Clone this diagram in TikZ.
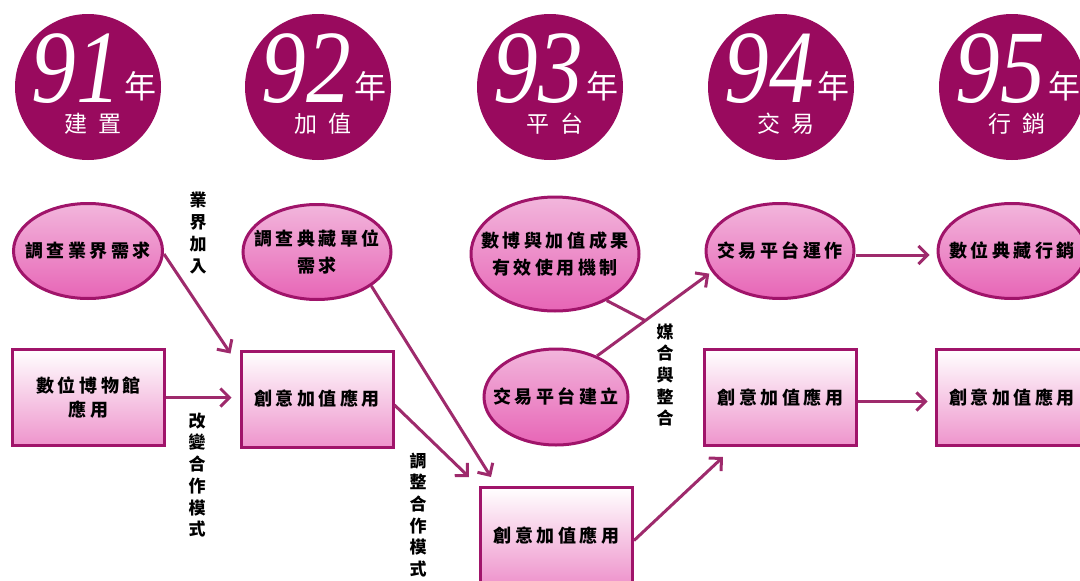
\documentclass[tikz,border=0pt]{standalone}
\usepackage{fontspec}
\setmainfont{Liberation Serif}
\newfontfamily\numfont{Liberation Serif}
\newfontfamily\cjk{Noto Sans CJK TC}
\newfontfamily\cjkls{Noto Sans CJK TC}[LetterSpace=20]
\newfontfamily\cjkwide{Noto Sans CJK TC}[LetterSpace=50]
\usetikzlibrary{arrows.meta,calc,shapes.geometric}
\definecolor{circ}{HTML}{990A5E}
\definecolor{bord}{HTML}{A0146A}
\definecolor{arrc}{HTML}{9E2A6C}
\definecolor{elltop}{HTML}{F2B6DC}
\definecolor{ellmid}{HTML}{FCEEF7}
\definecolor{ellbot}{HTML}{E765B6}
\definecolor{rectbot}{HTML}{EE94CC}
\tikzset{
  yearc/.style={circle, fill=circ, minimum size=146pt, inner sep=0pt},
  yearnum/.style={text=white, inner sep=0pt, text depth=0pt, anchor=base east, font=\numfont\itshape\fontsize{104}{104}\selectfont},
  yearsm/.style={text=white, inner sep=0pt, text depth=0pt, anchor=base west, font=\cjk\fontsize{32}{32}\selectfont},
  yearsub/.style={text=white, inner sep=0pt, font=\cjkwide\fontsize{23}{23}\selectfont},
  ell/.style={ellipse, draw=bord, line width=3pt, top color=elltop, middle color=ellmid, bottom color=ellbot, inner xsep=-20pt, inner ysep=0pt, align=center, font=\cjkls\bfseries\fontsize{18}{27}\selectfont},
  box/.style={rectangle, draw=bord, line width=3pt, top color=white, middle color=white, bottom color=rectbot, minimum width=152pt, minimum height=96pt, inner sep=0pt, align=center, font=\cjkls\bfseries\fontsize{18}{24}\selectfont},
  arr/.style={draw=arrc, line width=3pt, -{Straight Barb[length=9pt,width=18pt]}},
  ln/.style={draw=arrc, line width=3pt},
  vlab/.style={inner sep=0pt, align=center, font=\cjk\bfseries\fontsize{17}{21.7}\selectfont}
}
\begin{document}
\begin{tikzpicture}[x=1pt,y=-1pt]
\useasboundingbox (0,0) rectangle (1080,581);
% year circles
\foreach \cx/\num/\sub/\nm in {88/91/建置/c1, 318/92/加值/c2, 550/93/平台/c3, 781/94/交易/c4, 1012/95/行銷/c5}{
  \node[yearc] (\nm) at (\cx,87) {};
  \node[yearnum] (\nm n) at (\cx+33,102) {\scalebox{0.86}[1]{\num}};
  \node[yearsm] (\nm y) at (\cx+36,98) {年};
  \node[yearsub] (\nm s) at (\cx+5,124) {\sub};
}
% ellipses
\node[ell, minimum width=149pt, minimum height=95pt] (e1) at (88,251) {調查業界需求};
\node[ell, minimum width=148pt, minimum height=95pt] (e2) at (317,252) {調查典藏單位\\需求};
\node[ell, minimum width=168pt, minimum height=114pt] (e3) at (555,254) {數博與加值成果\\有效使用機制};
\node[ell, minimum width=144pt, minimum height=96pt] (e4) at (556,397) {交易平台建立};
\node[ell, minimum width=148pt, minimum height=95pt] (e5) at (780,251) {交易平台運作};
\node[ell, minimum width=148pt, minimum height=95pt] (e6) at (1012,251) {數位典藏行銷};
% boxes
\node[box] (r1) at (88.5,397.5) {數位博物館\\應用};
\node[box] (r2) at (317,399) {創意加值應用};
\node[box] (r3) at (556.5,535.5) {創意加值應用};
\node[box] (r4) at (780.5,397.5) {創意加值應用};
\node[box] (r5) at (1012,397.5) {創意加值應用};
% connectors
\coordinate (a1) at ([shift={(-9,4)}]r2.north west);
\draw[arr] ([yshift=-3pt]e1.east) -- (a1);
\draw[arr, shorten >=8pt] (r1.east) -- (r1.east -| r2.west);
\coordinate (a3) at ([shift={(-10,-9)}]r3.north west);
\draw[arr] ([yshift=-6pt]r2.east) -- (a3);
\coordinate (a4) at ([shift={(12,-9)}]r3.north west);
\draw[arr] (e2.-32) -- (a4);
\coordinate (a5) at ([shift={(20,10)}]r4.south west);
\draw[arr] ([yshift=-5pt]r3.east) -- (a5);
\path (e4.45) -- (e5.197) coordinate[pos=0.42] (m);
\draw[arr, shorten >=3pt] (e4.45) -- (e5.197);
\draw[ln] (e3.-42) -- (m);
\draw[arr, shorten >=7pt] ([yshift=-4pt]e5.east) -- ([yshift=-4pt]e6.west);
\draw[arr, shorten >=7pt] ([yshift=-4pt]r4.east) -- ([yshift=-4pt]r5.west);
% vertical labels
\node[vlab] (l1) at (198,233) {業\\界\\加\\入};
\node[vlab] (l2) at (197,475) {改\\變\\合\\作\\模\\式};
\node[vlab] (l3) at (418,515) {調\\整\\合\\作\\模\\式};
\node[vlab] (l4) at (665,375) {媒\\合\\與\\整\\合};
\end{tikzpicture}
\end{document}
